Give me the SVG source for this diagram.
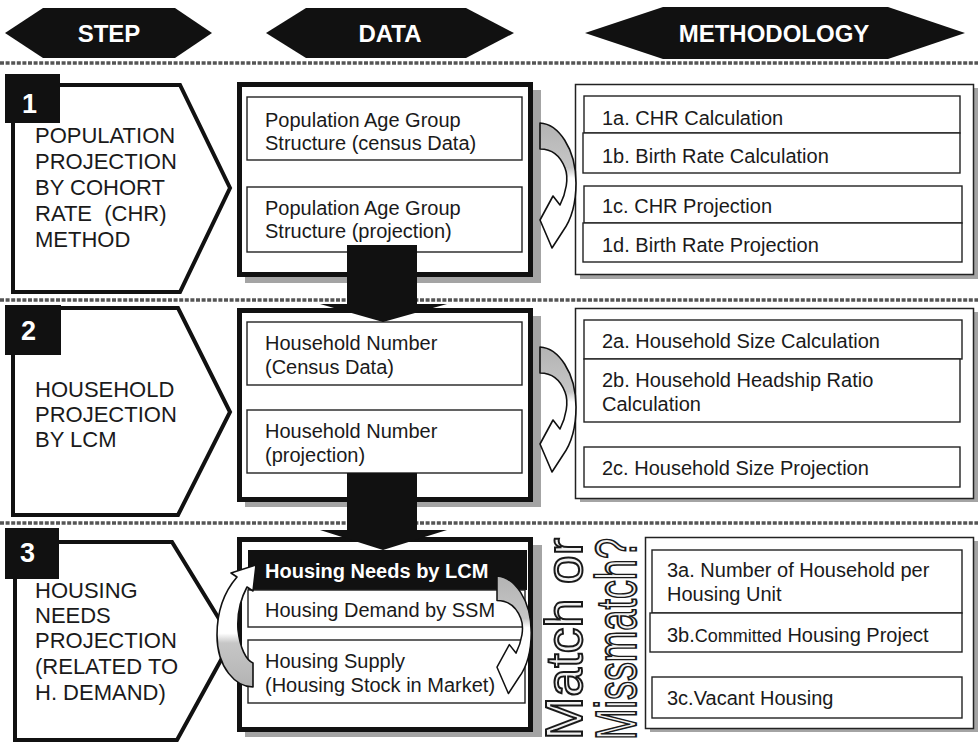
<svg xmlns="http://www.w3.org/2000/svg" width="978" height="743" viewBox="0 0 978 743">
<style>
text{font-family:"Liberation Sans",Arial,Helvetica,sans-serif;fill:#1a1a1a}
.hdr{font-size:24px;font-weight:bold;fill:#fff;text-anchor:middle}
.num{font-size:27px;font-weight:bold;fill:#fff}
.step{font-size:22px}
.dt{font-size:20px}
.mt{font-size:20px}
.hex{fill:#111}
.pent{fill:#fff;stroke:#111;stroke-width:4;stroke-linejoin:miter}
.dbox{fill:#fff;stroke:#111;stroke-width:5}
.ibox{fill:#fff;stroke:#222;stroke-width:1.4}
.mbox{fill:#fff;stroke:#222;stroke-width:1.5}
.shadow{fill:#a4a4a4}
.sep{stroke:#555;stroke-width:3.5;stroke-dasharray:4 1.6;fill:none}
.big{fill:#111}
.curve{stroke:#111;stroke-width:1.6;stroke-linejoin:round}
.mm{font-size:52px;fill:#f2f2f2;stroke:#1a1a1a;stroke-width:2}
</style>
<defs>
<linearGradient id="gDown" x1="0" y1="0" x2="0" y2="1">
<stop offset="0" stop-color="#b3b3b3"/>
<stop offset="0.36" stop-color="#c6c6c6"/>
<stop offset="0.44" stop-color="#fff"/>
<stop offset="1" stop-color="#fff"/>
</linearGradient>
<linearGradient id="gUp" x1="0" y1="1" x2="0" y2="0">
<stop offset="0" stop-color="#b3b3b3"/>
<stop offset="0.36" stop-color="#c6c6c6"/>
<stop offset="0.44" stop-color="#fff"/>
<stop offset="1" stop-color="#fff"/>
</linearGradient>
<path id="curveArrow" d="M0,0 C18,1 36,25 36,60 C36,80 31,97 23,108 L12,125 L0,97 L13,73 L20,82 C26,70 29,55 25,45 C20,32 12,26 0,26 Z"/>
</defs>
<rect width="978" height="743" fill="#fff"/>

<g id="headers">
<g id="hdr-step"><polygon class="hex" points="5,33 43,8 175,8 212,33 175,58 43,58"/><text class="hdr" x="109" y="42">STEP</text></g>
<g id="hdr-data"><polygon class="hex" points="266,33 306,8 466,8 514,33 466,58 306,58"/><text class="hdr" x="390" y="42">DATA</text></g>
<g id="hdr-method"><polygon class="hex" points="585,33 663,7 888,7 965,33 888,59 663,59"/><text class="hdr" x="774" y="42">METHODOLOGY</text></g>
</g>

<g id="separators">
<line class="sep" x1="0" y1="63" x2="978" y2="63"/>
<line class="sep" x1="0" y1="300" x2="978" y2="300"/>
<line class="sep" x1="0" y1="523" x2="978" y2="523"/>
</g>

<!-- STEP column -->
<g id="step1">
<polygon class="pent" points="13,85 180,85 230,188 180,292 13,292"/>
<rect x="5" y="74" width="55" height="49" fill="#111"/>
<text class="num" x="22" y="113">1</text>
<text class="step" x="35" y="143">POPULATION</text>
<text class="step" x="35" y="169">PROJECTION</text>
<text class="step" x="35" y="195">BY COHORT</text>
<text class="step" x="35" y="221" xml:space="preserve">RATE  (CHR)</text>
<text class="step" x="35" y="247">METHOD</text>
</g>
<g id="step2">
<polygon class="pent" points="13,308 178,308 230,412 178,515 13,515"/>
<rect x="5" y="305" width="56" height="50" fill="#111"/>
<text class="num" x="21" y="340">2</text>
<text class="step" x="35" y="397">HOUSEHOLD</text>
<text class="step" x="35" y="422">PROJECTION</text>
<text class="step" x="35" y="447">BY LCM</text>
</g>
<g id="step3">
<polygon class="pent" points="15,542 172,542 232,640 177,740 15,740"/>
<rect x="5" y="528" width="54" height="51" fill="#111"/>
<text class="num" x="20" y="562">3</text>
<text class="step" x="35" y="598">HOUSING</text>
<text class="step" x="35" y="623">NEEDS</text>
<text class="step" x="35" y="648">PROJECTION</text>
<text class="step" x="35" y="674">(RELATED TO</text>
<text class="step" x="35" y="700">H. DEMAND)</text>
</g>

<!-- DATA column -->
<g id="data1">
<rect class="shadow" x="533" y="90" width="8" height="193"/>
<rect class="shadow" x="245" y="277" width="296" height="6"/>
<rect class="dbox" x="239.5" y="84.5" width="291" height="190"/>
<rect class="ibox" x="247" y="97" width="275" height="63"/>
<text class="dt" x="265" y="127">Population Age Group</text>
<text class="dt" x="265" y="150">Structure (census Data)</text>
<rect class="ibox" x="247" y="187" width="275" height="65"/>
<text class="dt" x="265" y="215">Population Age Group</text>
<text class="dt" x="265" y="238">Structure (projection)</text>
</g>
<g id="data2">
<rect class="shadow" x="533" y="316" width="8" height="191"/>
<rect class="shadow" x="245" y="502" width="296" height="5"/>
<rect class="dbox" x="239.5" y="310.5" width="291" height="189"/>
<rect class="ibox" x="247" y="322" width="275" height="63"/>
<text class="dt" x="265" y="350">Household Number</text>
<text class="dt" x="265" y="374">(Census Data)</text>
<rect class="ibox" x="247" y="410" width="275" height="63"/>
<text class="dt" x="265" y="438">Household Number</text>
<text class="dt" x="265" y="462">(projection)</text>
</g>
<g id="data3">
<rect class="shadow" x="533" y="545" width="9" height="192"/>
<rect class="shadow" x="245" y="732" width="297" height="5"/>
<rect class="dbox" x="239.5" y="539.5" width="291" height="190"/>
<rect x="248" y="550" width="279" height="40" fill="#111"/>
<text class="dt" x="265" y="578" style="fill:#fff;font-weight:bold">Housing Needs by LCM</text>
<rect class="ibox" x="248" y="590" width="277" height="37"/>
<text class="dt" x="265" y="617">Housing Demand by SSM</text>
<rect class="ibox" x="248" y="640" width="277" height="63"/>
<text class="dt" x="265" y="668">Housing Supply</text>
<text class="dt" x="265" y="692">(Housing Stock in Market)</text>
</g>

<!-- METHODOLOGY column -->
<g id="method1">
<rect class="shadow" x="580" y="275" width="398" height="4"/>
<rect class="shadow" x="974" y="88" width="4" height="190"/>
<rect class="mbox" x="575.5" y="84.5" width="398" height="190"/>
<rect class="ibox" x="584" y="96" width="376" height="37"/>
<text class="mt" x="602" y="125">1a. CHR Calculation</text>
<rect class="ibox" x="583" y="133" width="377" height="40"/>
<text class="mt" x="602" y="163">1b. Birth Rate Calculation</text>
<rect class="ibox" x="584" y="186" width="378" height="37"/>
<text class="mt" x="602" y="213">1c. CHR Projection</text>
<rect class="ibox" x="583" y="223" width="379" height="39"/>
<text class="mt" x="602" y="252">1d. Birth Rate Projection</text>
</g>
<g id="method2">
<rect class="shadow" x="580" y="498" width="398" height="4"/>
<rect class="shadow" x="974" y="312" width="4" height="190"/>
<rect class="mbox" x="575.5" y="308.5" width="398" height="190"/>
<rect class="ibox" x="584" y="320" width="378" height="39"/>
<text class="mt" x="602" y="348">2a. Household Size Calculation</text>
<rect class="ibox" x="584" y="359" width="376" height="63"/>
<text class="mt" x="602" y="387">2b. Household Headship Ratio</text>
<text class="mt" x="602" y="411">Calculation</text>
<rect class="ibox" x="584" y="447" width="376" height="40"/>
<text class="mt" x="602" y="475">2c. Household Size Projection</text>
</g>
<g id="method3">
<rect class="shadow" x="650" y="728" width="328" height="4"/>
<rect class="shadow" x="974" y="541" width="4" height="190"/>
<rect class="mbox" x="645.5" y="537.5" width="328" height="191"/>
<rect class="ibox" x="652" y="550" width="310" height="63"/>
<text class="mt" x="667" y="577">3a. Number of Household per</text>
<text class="mt" x="667" y="601">Housing Unit</text>
<rect class="ibox" x="650" y="613" width="312" height="39"/>
<text class="mt" x="667" y="642">3b.<tspan style="font-size:18px">Committed</tspan> Housing Project</text>
<rect class="ibox" x="652" y="677" width="310" height="41"/>
<text class="mt" x="667" y="705">3c.Vacant Housing</text>
</g>

<g id="match-label">
<text class="mm" transform="translate(582,740) rotate(-90)" textLength="202" lengthAdjust="spacingAndGlyphs">Match or</text>
<text class="mm" transform="translate(636,740) rotate(-90)" style="font-size:57px" textLength="202" lengthAdjust="spacingAndGlyphs">Missmatch?</text>
</g>

<g id="connectors">
<polygon class="big" points="347,245 417,245 417,304 447,304 383,322 320,304 347,304"/>
<polygon class="big" points="347,473 417,473 417,530 447,530 383,550 320,530 347,530"/>
<use href="#curveArrow" class="curve" fill="url(#gDown)" transform="translate(540,123)"/>
<use href="#curveArrow" class="curve" fill="url(#gDown)" transform="translate(540,347)"/>
<use href="#curveArrow" class="curve" fill="url(#gDown)" transform="translate(497,576) scale(0.95,0.94)"/>
<path class="curve" fill="url(#gUp)" d="M253,687 C236,687 217,668 217,635 C217,612 224,592 237,577 L231,573 L256,565 L253,591 L247,587 C240,600 237,615 238,630 C240,648 246,660 253,663 Z"/>
</g>
</svg>
